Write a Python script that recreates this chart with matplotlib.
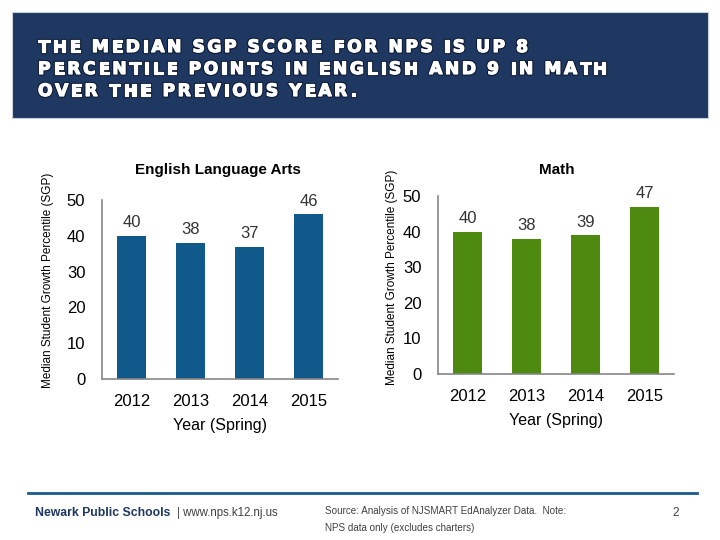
import matplotlib.pyplot as plt
from matplotlib.patches import Rectangle
from matplotlib.font_manager import FontProperties
import matplotlib.patheffects as pe

years = ['2012', '2013', '2014', '2015']
ela_scores = [40, 38, 37, 46]
math_scores = [40, 38, 39, 47]

title_lines = ['THE MEDIAN SGP SCORE FOR NPS IS UP 8',
               'PERCENTILE POINTS IN ENGLISH AND 9 IN MATH',
               'OVER THE PREVIOUS YEAR.']

plt.rcParams['font.family'] = ['Liberation Sans', 'DejaVu Sans']

fig = plt.figure(figsize=(7.2, 5.4), dpi=100)
W, H = 720, 540


def fx(px):
    return px / W


def fy(py):
    return 1 - py / H


# title banner
fig.patches.append(Rectangle((fx(12), fy(118)), fx(696), 106 / H,
                             transform=fig.transFigure, facecolor='#1E3862',
                             edgecolor='#c8d0dc', lw=0.8, zorder=0))

# banner title drawn letter by letter to get the wide tracking
renderer = fig.canvas.get_renderer()
tprop = FontProperties(family='DejaVu Sans', weight='bold', size=12.3)


def text_w(s):
    return renderer.get_text_width_height_descent(s, tprop, ismath=False)[0]


def advances(line):
    base = text_w('H')
    return [text_w(line[:i] + 'H') - base if i else 0.0 for i in range(len(line))]


first = title_lines[0]
natural = advances(first)[-1] + text_w(first[-1])
tracking = (490 - natural) / (len(first) - 1)
heavy = [pe.Stroke(linewidth=2.4, foreground='#0b1730'),
         pe.Stroke(linewidth=0.9, foreground='white'),
         pe.Normal()]
for row, line in enumerate(title_lines):
    y = fy(47 + row * 22)
    for i, (ch, adv) in enumerate(zip(line, advances(line))):
        if ch == ' ':
            continue
        fig.text(fx(38 + adv + i * tracking), y, ch, color='white',
                 fontproperties=tprop, va='center', ha='left',
                 path_effects=heavy)


def draw_panel(rect, values, color):
    ax = fig.add_axes(rect)
    x = range(len(values))
    bars = ax.bar(x, values, width=0.49, color=color, zorder=2)
    ax.set_xlim(-0.5, len(values) - 0.5)
    ax.set_ylim(0, 50)
    ax.set_yticks([0, 10, 20, 30, 40, 50])
    ax.set_xticks(list(x))
    ax.set_xticklabels(years)
    for s in ['top', 'right']:
        ax.spines[s].set_visible(False)
    for s in ['left', 'bottom']:
        ax.spines[s].set_color('#868686')
        ax.spines[s].set_linewidth(1.2)
    ax.tick_params(axis='both', length=0, labelsize=12, colors='black')
    ax.tick_params(axis='x', pad=11)
    ax.tick_params(axis='y', pad=12)
    for b, v in zip(bars, values):
        ax.annotate(str(v), (b.get_x() + b.get_width() / 2, v),
                    xytext=(0, 4), textcoords='offset points',
                    ha='center', va='bottom', fontsize=12, color='#333333')
    ax.set_xlabel('Year (Spring)', fontsize=11.5, labelpad=6)
    return ax


ax1 = draw_panel([fx(102), fy(379), 236 / W, 179 / H], ela_scores, '#0F5A8A')
ax2 = draw_panel([fx(438), fy(374), 236 / W, 178 / H], math_scores, '#4F8A10')

fig.text(fx(218), fy(170), 'English Language Arts', fontsize=11,
         fontweight='bold', ha='center', va='center')
fig.text(fx(557), fy(170), 'Math', fontsize=11,
         fontweight='bold', ha='center', va='center')

fig.text(fx(48), fy(280), 'Median Student Growth Percentile (SGP)',
         rotation=90, fontsize=8.5, ha='center', va='center')
fig.text(fx(392), fy(277), 'Median Student Growth Percentile (SGP)',
         rotation=90, fontsize=8.5, ha='center', va='center')

# footer
fig.add_artist(plt.Line2D([fx(28), fx(697)], [fy(493), fy(493)],
                          color='#1B5A8A', lw=2))
fig.text(fx(35), fy(513), 'Newark Public Schools', fontsize=8.8,
         fontweight='bold', color='#1E3862', va='center')
fig.text(fx(177), fy(513), '| www.nps.k12.nj.us', fontsize=8.3,
         color='#404040', va='center')
fig.text(fx(325), fy(511), 'Source: Analysis of NJSMART EdAnalyzer Data.  Note:',
         fontsize=7.1, color='#404040', va='center')
fig.text(fx(325), fy(528), 'NPS data only (excludes charters)',
         fontsize=7.1, color='#404040', va='center')
fig.text(fx(672), fy(513), '2', fontsize=8.5, color='#404040', va='center')

fig.savefig('out.png', dpi=100)
